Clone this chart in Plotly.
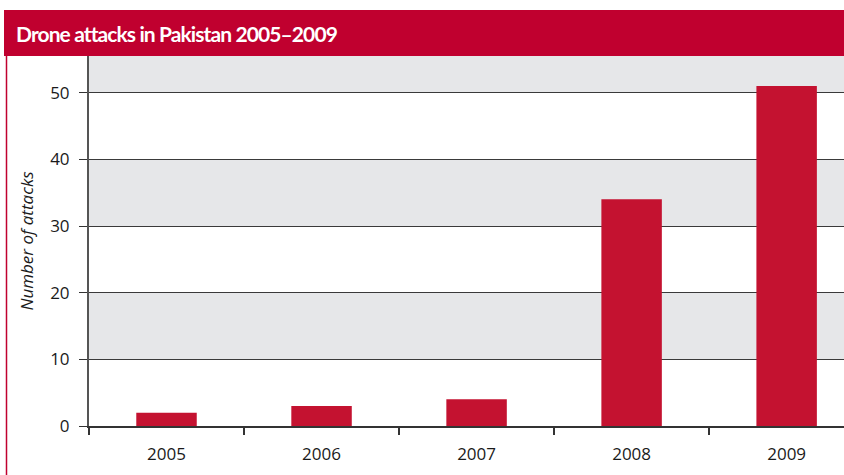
import plotly.graph_objects as go

years = ["2005", "2006", "2007", "2008", "2009"]
attacks = [2, 3, 4, 34, 51]
y_ticks = [0, 10, 20, 30, 40, 50]
bands = [(10, 20), (30, 40), (50, 60)]

W, H = 844, 475
L, R, T, B = 89, 0, 56, 49
PW, PH = W - L - R, H - T - B

def px_x(px):
    return (px - L) / PW

def px_y(py):
    return (H - B - py) / PH

red = "#C0002F"
bar_red = "#C41230"

fig = go.Figure()
fig.add_trace(go.Bar(x=years, y=attacks, marker=dict(color=bar_red, line=dict(width=0)),
                     width=0.39, hoverinfo="x+y"))

shapes = []
for lo, hi in bands:
    shapes.append(dict(type="rect", xref="paper", yref="y", x0=0, x1=1, y0=lo, y1=hi,
                       fillcolor="#E6E7E9", line=dict(width=0), layer="below"))
# title bar
shapes.append(dict(type="rect", xref="paper", yref="paper", x0=px_x(4), x1=px_x(846),
                   y0=px_y(56), y1=px_y(10), fillcolor=red, line=dict(width=0), layer="above"))
# left border
shapes.append(dict(type="line", xref="paper", yref="paper", x0=px_x(6.5), x1=px_x(6.5),
                   y0=px_y(477), y1=px_y(56), line=dict(color=red, width=1.5), layer="above"))

fig.update_layout(
    width=W, height=H,
    margin=dict(l=L, r=R, t=T, b=B, autoexpand=False),
    paper_bgcolor="white", plot_bgcolor="white",
    showlegend=False,
    shapes=shapes,
    font=dict(family="Open Sans, Noto Sans, sans-serif", size=17, color="#1a1a1a"),
    annotations=[dict(text="<b><span style=\"letter-spacing:-0.9px\">Drone attacks in Pakistan 2005–2009</span></b>",
                      xref="paper", yref="paper",
                      x=px_x(14), y=px_y(34), xanchor="left", yanchor="middle", showarrow=False,
                      font=dict(family="Lato, sans-serif", size=21, color="white"))],
    xaxis=dict(type="category", range=[-0.5, 4.37], showgrid=False, showline=True,
               linecolor="#333333", linewidth=1.5, ticks="outside", tickson="boundaries",
               ticklen=7, tickcolor="#333333", tickwidth=1.5, ticklabelstandoff=12,
               tickfont=dict(size=17), fixedrange=True),
    yaxis=dict(range=[0, 55.5], tickvals=y_ticks, showgrid=True, gridcolor="#3a3a3a",
               gridwidth=1.2, showline=True, linecolor="#555555", linewidth=2,
               ticks="outside", ticklen=8, tickcolor="#333333", tickwidth=1.2,
               ticklabelstandoff=6, zeroline=False, tickfont=dict(size=17),
               title=dict(text="<i>Number of attacks</i>", standoff=12,
                          font=dict(size=17)), fixedrange=True),
)

fig.write_html("out.html", config={"displayModeBar": False},
               post_script="document.body.style.margin='0';document.body.style.overflow='hidden';")
